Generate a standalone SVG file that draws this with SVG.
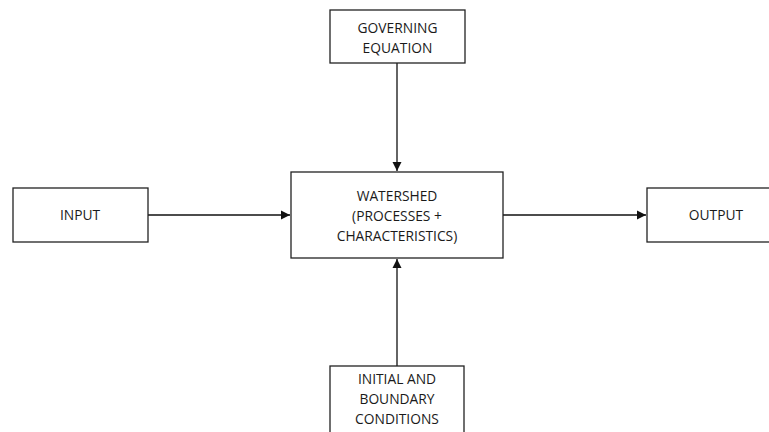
<svg xmlns="http://www.w3.org/2000/svg" width="769" height="432" viewBox="0 0 769 432">
<style>
.box{fill:#fff;stroke:#222;stroke-width:1.3}
.t{font-family:"Open Sans","Liberation Sans",sans-serif;font-size:13.8px;fill:#1a1a1a;text-anchor:middle}
.c{stroke:#111;stroke-width:1.3;fill:none}
</style>
<defs>
<marker id="ah" markerWidth="10" markerHeight="10" refX="9" refY="5" orient="auto" markerUnits="userSpaceOnUse">
<path d="M0,0.5 L9,5 L0,9.5 Z" fill="#111"/>
</marker>
</defs>
<rect width="769" height="432" fill="#fff"/>
<g id="connectors">
<line class="c" x1="397" y1="63" x2="397" y2="171" marker-end="url(#ah)"/>
<line class="c" x1="397" y1="366" x2="397" y2="259" marker-end="url(#ah)"/>
<line class="c" x1="148" y1="215" x2="290" y2="215" marker-end="url(#ah)"/>
<line class="c" x1="503" y1="215" x2="646" y2="215" marker-end="url(#ah)"/>
</g>
<g id="governing">
<rect class="box" x="330" y="10" width="135" height="53"/>
<text class="t" x="397.5" y="33">GOVERNING</text>
<text class="t" x="397.5" y="53">EQUATION</text>
</g>
<g id="watershed">
<rect class="box" x="291" y="172" width="212" height="86"/>
<text class="t" x="397" y="201">WATERSHED</text>
<text class="t" x="397" y="221">(PROCESSES +</text>
<text class="t" x="397" y="241">CHARACTERISTICS)</text>
</g>
<g id="input">
<rect class="box" x="13" y="188" width="135" height="54"/>
<text class="t" x="80" y="220">INPUT</text>
</g>
<g id="output">
<rect class="box" x="647" y="188" width="140" height="54"/>
<text class="t" x="716" y="220">OUTPUT</text>
</g>
<g id="initial">
<rect class="box" x="330" y="366" width="134" height="80"/>
<text class="t" x="397" y="384">INITIAL AND</text>
<text class="t" x="397" y="404">BOUNDARY</text>
<text class="t" x="397" y="424">CONDITIONS</text>
</g>
</svg>
